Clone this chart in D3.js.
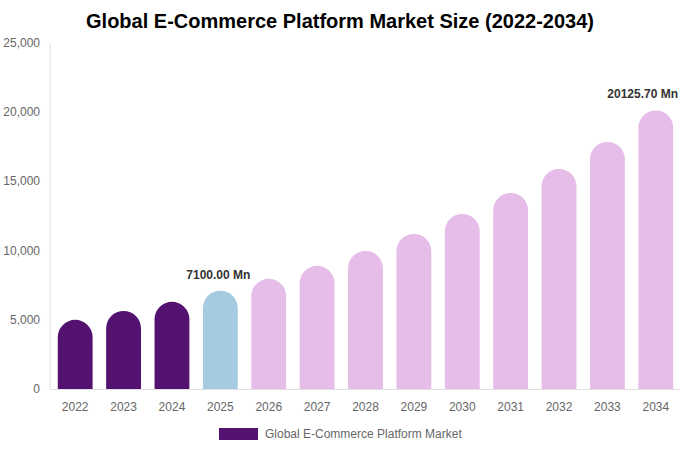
<!DOCTYPE html>
<html>
<head>
<meta charset="utf-8">
<script src="https://cdn.jsdelivr.net/npm/d3@7"></script>
<style>
  body { margin: 0; background: #fff; }
  svg { font-family: "Liberation Sans", Arial, sans-serif; display: block; }
</style>
</head>
<body>
<div id="chart"></div>
<script>
var years = ['2022', '2023', '2024', '2025', '2026', '2027', '2028', '2029', '2030', '2031', '2032', '2033', '2034'];
var values = [5000, 5640, 6300, 7100, 7960, 8900, 9980, 11200, 12650, 14170, 15900, 17850, 20125.7];
var barColors = ['#541270', '#541270', '#541270', '#a4cbe0', '#e6bce8', '#e6bce8', '#e6bce8', '#e6bce8',
                 '#e6bce8', '#e6bce8', '#e6bce8', '#e6bce8', '#e6bce8'];
var yTicks = [0, 5000, 10000, 15000, 20000, 25000];
var labelled = ['2025', '2034'];
var seriesName = 'Global E-Commerce Platform Market';

var dim = { width: 680, height: 450 };
var m = { top: 43, right: 0, bottom: 61, left: 51 };

var svg = d3.select('#chart').append('svg')
    .attr('width', dim.width)
    .attr('height', dim.height);

svg.append('text')
    .attr('x', 340)
    .attr('y', 28)
    .attr('text-anchor', 'middle')
    .attr('font-size', 20)
    .attr('font-weight', 'bold')
    .attr('fill', '#000')
    .text('Global E-Commerce Platform Market Size (2022-2034)');

var x = d3.scaleBand()
    .domain(years)
    .range([m.left, dim.width - m.right])
    .paddingInner(0.28)
    .paddingOuter(0.14);

var y = d3.scaleLinear()
    .domain([0, 25000])
    .range([dim.height - m.bottom, m.top]);

// axes lines
svg.append('line')
    .attr('x1', m.left - 1).attr('x2', m.left - 1)
    .attr('y1', y(25000)).attr('y2', y(0))
    .attr('stroke', '#e0e0e0');
svg.append('line')
    .attr('x1', m.left - 1).attr('x2', dim.width)
    .attr('y1', y(0) + 0.5).attr('y2', y(0) + 0.5)
    .attr('stroke', '#e0e0e0');

svg.selectAll('.ytick')
    .data(yTicks).enter()
    .append('text')
    .attr('class', 'ytick')
    .attr('x', 40)
    .attr('y', d => y(d) + 4)
    .attr('text-anchor', 'end')
    .attr('font-size', 12)
    .attr('fill', '#666')
    .text(d => d3.format(',')(d));

svg.selectAll('.xtick')
    .data(years).enter()
    .append('text')
    .attr('class', 'xtick')
    .attr('x', d => x(d) + x.bandwidth() / 2)
    .attr('y', y(0) + 22)
    .attr('text-anchor', 'middle')
    .attr('font-size', 12)
    .attr('fill', '#666')
    .text(d => d);

// bars with rounded tops
function barPath(d, i) {
    var w = x.bandwidth(), r = w / 2;
    var x0 = x(years[i]), yb = y(0), yt = y(d);
    var h = yb - yt;
    if (h < r) r = h;
    return 'M' + x0 + ',' + yb +
        'V' + (yt + r) +
        'A' + (w / 2) + ',' + r + ' 0 0 1 ' + (x0 + w) + ',' + (yt + r) +
        'V' + yb + 'Z';
}

svg.selectAll('.bar')
    .data(values).enter()
    .append('path')
    .attr('class', 'bar')
    .attr('d', barPath)
    .attr('fill', (d, i) => barColors[i]);

// value labels; keep the last one inside the picture
svg.selectAll('.vlabel')
    .data(values.filter((d, i) => labelled.indexOf(years[i]) >= 0)).enter()
    .append('text')
    .attr('class', 'vlabel')
    .attr('y', d => y(d) - 12)
    .attr('font-size', 12)
    .attr('font-weight', 'bold')
    .attr('fill', '#333')
    .text(d => d.toFixed(2) + ' Mn')
    .each(function (d) {
        var t = d3.select(this);
        var cx = x(years[values.indexOf(d)]) + x.bandwidth() / 2 - 2;
        var w = this.getComputedTextLength();
        var left = Math.min(cx - w / 2, dim.width - 2 - w);
        t.attr('x', left);
    });

// legend
svg.append('rect')
    .attr('x', 219).attr('y', 428)
    .attr('width', 39).attr('height', 12)
    .attr('fill', barColors[0]);
svg.append('text')
    .attr('x', 265).attr('y', 437.5)
    .attr('font-size', 12)
    .attr('fill', '#666')
    .text(seriesName);
</script>
</body>
</html>
